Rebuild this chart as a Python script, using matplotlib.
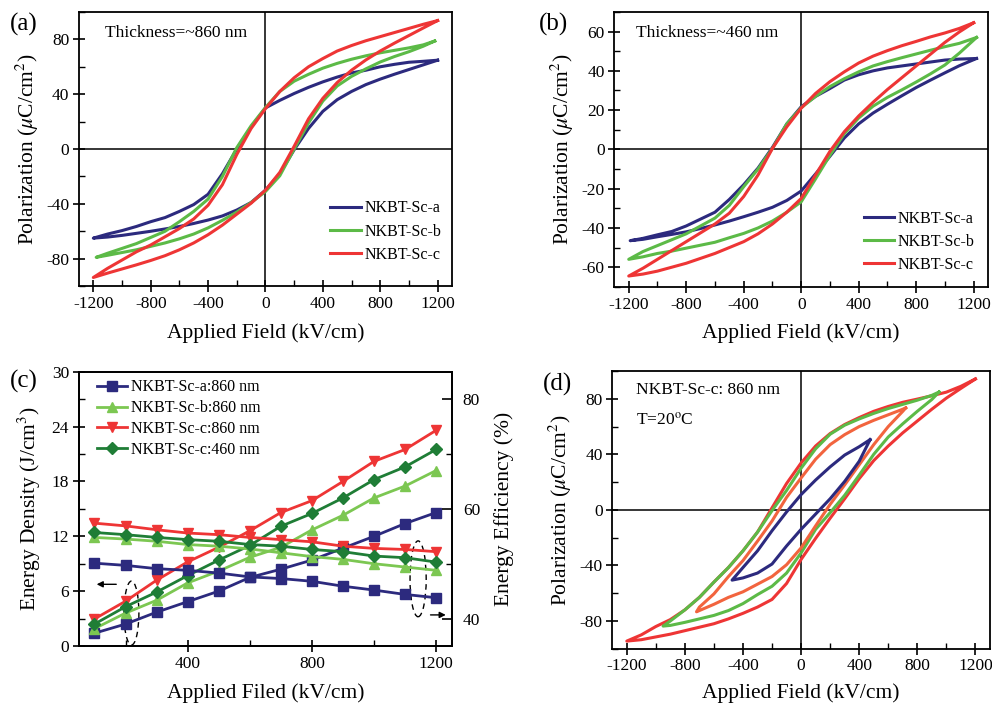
import numpy as np
import matplotlib
matplotlib.use("Agg")
import matplotlib.pyplot as plt
from matplotlib.ticker import MultipleLocator
from matplotlib.patches import Ellipse

plt.rcParams.update({
    "font.family": ["Liberation Serif", "DejaVu Serif"],
    "mathtext.fontset": "stix",
    "axes.unicode_minus": False,
    "axes.linewidth": 1.3,
    "xtick.major.width": 1.2,
    "ytick.major.width": 1.2,
    "xtick.minor.width": 1.0,
    "ytick.minor.width": 1.0,
})

# ---------------- (a) P-E loops, ~860 nm films ----------------
E_a = [-1200, -1100, -1000, -900, -800, -700, -600, -500, -400, -300, -200, -100,
       0, 100, 200, 300, 400, 500, 600, 700, 800, 900, 1000, 1100, 1200]
E_a_b = [-1180, -1100, -1000, -900, -800, -700, -600, -500, -400, -300, -200, -100,
         0, 100, 200, 300, 400, 500, 600, 700, 800, 900, 1000, 1100, 1180]
Pa_sca_up = [-65, -62, -59.5, -56.5, -53, -50, -45.5, -40.5, -33, -18, 0, 16, 30,
             35.5, 40.5, 45, 49, 52.5, 55.5, 57.5, 60, 61.8, 63.3, 64, 64.8]
Pa_sca_dn = [-65, -64.2, -63, -61.5, -60, -58.3, -56.5, -54.3, -51.8, -48.8, -44.5, -39, -30,
             -18, -0.5, 15, 27.5, 36, 42, 47, 51, 54.6, 58, 61.4, 64.8]
Pa_scb_up = [-79, -76, -72.5, -69, -64.5, -60, -53, -45.5, -36.5, -20, 1, 17, 30.3,
             42, 49.5, 54.5, 59, 62.5, 65.5, 68, 70.2, 72, 73.8, 76, 78.8]
Pa_scb_dn = [-79, -77.5, -75.5, -73.5, -71, -68.5, -65.5, -62, -57.5, -52, -46, -39, -31,
             -19.5, 0, 19, 35, 46, 53, 58.5, 63.5, 67.5, 71, 75, 78.8]
Pa_scc_up = [-93.7, -87, -81, -75, -70, -64, -58, -51, -41, -26, -4, 15, 29.5,
             42, 52, 60, 66, 71.5, 75.5, 79, 82, 85, 88, 91, 93.7]
Pa_scc_dn = [-93.7, -90.5, -87.5, -84.5, -81.3, -77.8, -73.5, -68.5, -62.5, -55.5, -47.5, -39.5, -30,
             -17, 2, 22, 37, 48.5, 57.5, 65, 71.5, 77.3, 82.8, 88.3, 93.7]

# ---------------- (b) P-E loops, ~460 nm films ----------------
E_b_a = [-1190, -1100, -1000, -900, -800, -700, -600, -500, -400, -300, -200, -100,
         0, 100, 200, 300, 400, 500, 600, 700, 800, 900, 1000, 1100, 1220]
E_b_b = [-1200, -1100, -1000, -900, -800, -700, -600, -500, -400, -300, -200, -100,
         0, 100, 200, 300, 400, 500, 600, 700, 800, 900, 1000, 1100, 1220]
E_b_c = [-1200, -1100, -1000, -900, -800, -700, -600, -500, -400, -300, -200, -100,
         0, 100, 200, 300, 400, 500, 600, 700, 800, 900, 1000, 1100, 1200]
Pb_sca_up = [-46.5, -45.3, -43.5, -41.8, -39, -35.5, -32, -25.5, -18, -9.5, 1, 13, 21.7,
             27, 31, 35.3, 38, 40, 41.5, 42.5, 43.5, 44.5, 45.5, 46, 46.3]
Pb_sca_dn = [-46.5, -45.8, -44.5, -43.3, -42, -40.3, -38.5, -36.5, -34.3, -32, -29.5, -26, -21.2,
             -12.5, -3.5, 5.8, 13, 18.5, 23, 27.3, 31.5, 35.3, 39, 42.6, 46.3]
Pb_scb_up = [-56, -52, -49, -46, -43, -39, -35, -28.5, -19, -10, 0.5, 13, 21.2,
             27, 32, 36, 39.5, 42.5, 44.7, 46.7, 48.6, 50.5, 52.3, 54, 57]
Pb_scb_dn = [-56, -54.7, -53, -51.8, -50.3, -48.8, -47.3, -45, -42.8, -40, -36.5, -32, -26.7,
             -15, -3, 8, 16, 22, 26.5, 30.3, 34.3, 38.5, 43, 49, 57]
Pb_scc_up = [-64.5, -60.5, -56, -51.5, -47, -42.5, -38, -32.5, -24, -13, 0.5, 11.5, 21,
             28.5, 34.5, 39.5, 44, 47.5, 50.3, 52.8, 55, 57.3, 59.3, 61.6, 64.5]
Pb_scc_dn = [-64.5, -63.5, -62, -60, -58, -55.5, -53, -50, -47, -43, -38, -32, -25,
             -13, -1, 9, 17, 24, 30.5, 36.5, 42.5, 48.5, 54.5, 59.8, 64.5]

# ---------------- (c) energy storage vs field ----------------
E_c = [100, 200, 300, 400, 500, 600, 700, 800, 900, 1000, 1100, 1200]
W_sca_860 = [1.4, 2.4, 3.7, 4.85, 6.0, 7.5, 8.4, 9.4, 10.7, 12.0, 13.4, 14.6]
W_scb_860 = [1.9, 3.6, 5.0, 6.9, 8.2, 9.7, 10.8, 12.7, 14.3, 16.2, 17.5, 19.2]
W_scc_860 = [2.96, 4.9, 7.2, 9.2, 10.8, 12.6, 14.6, 15.9, 18.0, 20.2, 21.5, 23.6]
W_scc_460 = [2.4, 4.3, 5.9, 7.7, 9.4, 11.0, 13.1, 14.5, 16.2, 18.2, 19.6, 21.5]
eta_sca_860 = [50.1, 49.7, 49.1, 48.8, 48.3, 47.6, 47.3, 46.8, 45.9, 45.2, 44.4, 43.8]
eta_scb_860 = [54.8, 54.5, 54.1, 53.5, 53.2, 52.7, 52.0, 51.3, 50.8, 50.0, 49.4, 48.8]
eta_scc_860 = [57.4, 56.9, 56.2, 55.6, 55.3, 54.8, 54.4, 54.0, 53.2, 52.8, 52.6, 52.2]
eta_scc_460 = [55.7, 55.3, 54.8, 54.4, 54.1, 53.5, 53.2, 52.6, 52.2, 51.4, 51.1, 50.3]
labels_c = ["NKBT-Sc-a:860 nm", "NKBT-Sc-b:860 nm", "NKBT-Sc-c:860 nm", "NKBT-Sc-c:460 nm"]

# ---------------- (d) NKBT-Sc-c 860 nm, loops at several fields ----------------
E_d_480 = [-475, -400, -300, -200, -100, 0, 100, 200, 300, 400, 475]
E_d_720 = [-720, -700, -600, -500, -400, -300, -200, -100, 0, 100, 200, 300, 400, 500, 600, 700, 720]
E_d_960 = [-950, -900, -800, -700, -600, -500, -400, -300, -200, -100, 0,
           100, 200, 300, 400, 500, 600, 700, 800, 900, 950]
E_d_1200 = [-1200, -1100, -1000, -900, -800, -700, -600, -500, -400, -300, -200, -100,
            0, 100, 200, 300, 400, 500, 600, 700, 800, 900, 1000, 1100, 1200]
Pd_480_up = [-50.6, -41.5, -29.5, -15, -1.5, 11, 21.5, 31, 39.5, 45.5, 50.6]
Pd_480_dn = [-50.6, -49, -45.5, -39, -26, -14, -3, 8, 20.5, 35, 50.6]
Pd_720_up = [-73.4, -70, -60.5, -48, -36.5, -22.5, -8, 9, 23, 36.5, 47, 54.2, 60, 64.5, 68.5, 72.5, 73.4]
Pd_720_dn = [-73.4, -72.5, -68, -63, -59, -53.5, -48, -39.5, -27.4, -11.5, 4, 18, 32.5, 47, 60, 71, 73.4]
Pd_960_up = [-83.7, -80, -72, -63, -52, -41.5, -29.5, -16, -0.5, 14, 30,
             44, 54.5, 61, 65.5, 69.5, 73, 76, 79, 82.5, 84.9]
Pd_960_dn = [-83.7, -83.2, -81, -78.5, -76, -72.5, -67.5, -61, -55, -45.5, -31,
             -14, -2, 10.5, 25, 40, 52.5, 62, 71, 79.5, 84.9]
Pd_1200_up = [-94.5, -90, -84, -79, -72, -63, -52, -41.5, -29.5, -16, 1.5, 19, 33.8,
              46, 55, 61.5, 66.5, 71, 74.5, 77.5, 79.8, 82.2, 84.8, 89, 94.3]
Pd_1200_dn = [-94.5, -93.5, -91.5, -89.5, -87, -84.5, -82, -78.5, -74.5, -70, -64.5, -53, -35.7,
              -20.5, -6, 8, 22.5, 35.5, 46, 55.5, 64, 72.5, 80.5, 87.5, 94.3]

NAVY = "#2c2a7e"
GREEN = "#5cba47"
RED = "#ee3535"
ORANGE = "#f2643e"
LGREEN = "#7cc752"
DGREEN = "#1f7d36"

TICK_FS = 12.5
LABEL_FS = 15.5
LEG_FS = 11.5


def loop(ax, E, up, dn, color, label=None):
    E = np.asarray(E, float)
    x = np.concatenate([E[::-1], E])
    y = np.concatenate([np.asarray(up, float)[::-1], np.asarray(dn, float)])
    ax.plot(x, y, color=color, lw=2.2, solid_joinstyle="round", label=label)


def style(ax, xlim, ylim, xmaj, xmin, ymaj, ymin):
    ax.set_xlim(*xlim)
    ax.set_ylim(*ylim)
    ax.xaxis.set_major_locator(MultipleLocator(xmaj))
    ax.xaxis.set_minor_locator(MultipleLocator(xmin))
    ax.yaxis.set_major_locator(MultipleLocator(ymaj))
    ax.yaxis.set_minor_locator(MultipleLocator(ymin))
    ax.tick_params(which="major", direction="inout", length=8, labelsize=TICK_FS, pad=3)
    ax.tick_params(which="minor", direction="in", length=4)
    ax.tick_params(top=False, right=False, which="both")


def zero_lines(ax):
    ax.axhline(0, color="black", lw=1.1, zorder=1)
    ax.axvline(0, color="black", lw=1.1, zorder=1)


fig = plt.figure(figsize=(9.92, 7.03), dpi=100)

ax_a = fig.add_axes([0.0796, 0.593, 0.376, 0.390])
ax_b = fig.add_axes([0.6193, 0.592, 0.3767, 0.391])
ax_c = fig.add_axes([0.0796, 0.0811, 0.3757, 0.390])
ax_d = fig.add_axes([0.6172, 0.0772, 0.3807, 0.395])

pol_label = r"Polarization ($\mu$C/cm$^2$)"
leg_kw = dict(frameon=False, fontsize=LEG_FS, handlelength=1.9, handletextpad=0.25,
              borderaxespad=0.0, borderpad=0.0)

# (a)
zero_lines(ax_a)
loop(ax_a, E_a, Pa_sca_up, Pa_sca_dn, NAVY, "NKBT-Sc-a")
loop(ax_a, E_a_b, Pa_scb_up, Pa_scb_dn, GREEN, "NKBT-Sc-b")
loop(ax_a, E_a, Pa_scc_up, Pa_scc_dn, RED, "NKBT-Sc-c")
style(ax_a, (-1300, 1300), (-100, 100), 400, 200, 40, 20)
ax_a.set_xlabel("Applied Field (kV/cm)", fontsize=LABEL_FS, labelpad=8)
ax_a.set_ylabel(pol_label, fontsize=LABEL_FS, labelpad=4)
ax_a.text(0.07, 0.925, "Thickness=~860 nm", transform=ax_a.transAxes,
          fontsize=12.5, va="center", ha="left")
ax_a.legend(loc="lower right", bbox_to_anchor=(0.972, 0.085), labelspacing=0.45, **leg_kw)

# (b)
zero_lines(ax_b)
loop(ax_b, E_b_a, Pb_sca_up, Pb_sca_dn, NAVY, "NKBT-Sc-a")
loop(ax_b, E_b_b, Pb_scb_up, Pb_scb_dn, GREEN, "NKBT-Sc-b")
loop(ax_b, E_b_c, Pb_scc_up, Pb_scc_dn, RED, "NKBT-Sc-c")
style(ax_b, (-1300, 1300), (-70, 70), 400, 200, 20, 10)
ax_b.set_xlabel("Applied Field (kV/cm)", fontsize=LABEL_FS, labelpad=8)
ax_b.set_ylabel(pol_label, fontsize=LABEL_FS, labelpad=4)
ax_b.text(0.058, 0.925, "Thickness=~460 nm", transform=ax_b.transAxes,
          fontsize=12.5, va="center", ha="left")
ax_b.legend(loc="lower right", bbox_to_anchor=(0.965, 0.05), labelspacing=0.45, **leg_kw)

# (c)
ax_c2 = ax_c.twinx()
series_c = [
    (W_sca_860, eta_sca_860, NAVY, "s", 6.5),
    (W_scb_860, eta_scb_860, LGREEN, "^", 7.5),
    (W_scc_860, eta_scc_860, RED, "v", 7.5),
    (W_scc_460, eta_scc_460, DGREEN, "D", 6.5),
]
handles = []
for (w, eta, col, mk, ms), lab in zip(series_c, labels_c):
    h, = ax_c.plot(E_c, w, color=col, lw=2.0, marker=mk, ms=ms, label=lab)
    ax_c2.plot(E_c, eta, color=col, lw=2.0, marker=mk, ms=ms)
    handles.append(h)
ax_c.set_xlim(50, 1250)
ax_c.set_ylim(0, 30)
ax_c2.set_ylim(35, 85)
ax_c.xaxis.set_major_locator(MultipleLocator(400))
ax_c.xaxis.set_minor_locator(MultipleLocator(200))
ax_c.yaxis.set_major_locator(MultipleLocator(6))
ax_c.yaxis.set_minor_locator(MultipleLocator(3))
ax_c2.yaxis.set_major_locator(MultipleLocator(20))
ax_c2.yaxis.set_minor_locator(MultipleLocator(10))
ax_c.tick_params(which="major", direction="inout", length=8, labelsize=TICK_FS, pad=3)
ax_c.tick_params(which="minor", direction="in", length=4)
ax_c.tick_params(top=False, which="both")
ax_c2.tick_params(which="major", direction="in", length=7, labelsize=TICK_FS, pad=8)
ax_c2.tick_params(which="minor", direction="in", length=4)
ax_c.set_xlabel("Applied Filed (kV/cm)", fontsize=LABEL_FS, labelpad=8)
ax_c.set_ylabel(r"Energy Density (J/cm$^3$)", fontsize=LABEL_FS, labelpad=6)
ax_c2.set_ylabel("Energy Efficiency (%)", fontsize=LABEL_FS, labelpad=10)
ax_c.legend(handles=handles, loc="upper left", bbox_to_anchor=(0.048, 0.972),
            labelspacing=0.3, **leg_kw)
ax_c.add_patch(Ellipse((219, 3.6), 48, 7.0, fill=False, ls=(0, (4, 3)), lw=1.0, color="black"))
ax_c.add_patch(Ellipse((1142, 7.35), 52, 8.3, fill=False, ls=(0, (4, 3)), lw=1.0, color="black"))
ax_c.annotate("", xy=(98, 6.75), xytext=(179, 6.75),
              arrowprops=dict(arrowstyle="-|>", color="black", lw=1.0, mutation_scale=9))
ax_c.annotate("", xy=(1240, 3.4), xytext=(1173, 3.4),
              arrowprops=dict(arrowstyle="-|>", color="black", lw=1.0, mutation_scale=9))

# (d)
zero_lines(ax_d)
loop(ax_d, E_d_1200, Pd_1200_up, Pd_1200_dn, RED)
loop(ax_d, E_d_960, Pd_960_up, Pd_960_dn, GREEN)
loop(ax_d, E_d_720, Pd_720_up, Pd_720_dn, ORANGE)
loop(ax_d, E_d_480, Pd_480_up, Pd_480_dn, NAVY)
style(ax_d, (-1300, 1300), (-100, 100), 400, 200, 40, 20)
ax_d.set_xlabel("Applied Field (kV/cm)", fontsize=LABEL_FS, labelpad=6)
ax_d.set_ylabel(pol_label, fontsize=LABEL_FS, labelpad=4)
ax_d.text(0.063, 0.932, "NKBT-Sc-c: 860 nm", transform=ax_d.transAxes,
          fontsize=12.5, va="center", ha="left")
ax_d.text(0.063, 0.822, r"T=20$^{\mathrm{o}}$C", transform=ax_d.transAxes,
          fontsize=12.5, va="center", ha="left")

# panel letters
for lbl, x, y in [("(a)", 24, 24), ("(b)", 553, 24), ("(c)", 24, 381), ("(d)", 557, 384)]:
    fig.text(x / 992, 1 - y / 703, lbl, fontsize=18, ha="center", va="center")

fig.savefig("out.png", dpi=100)
